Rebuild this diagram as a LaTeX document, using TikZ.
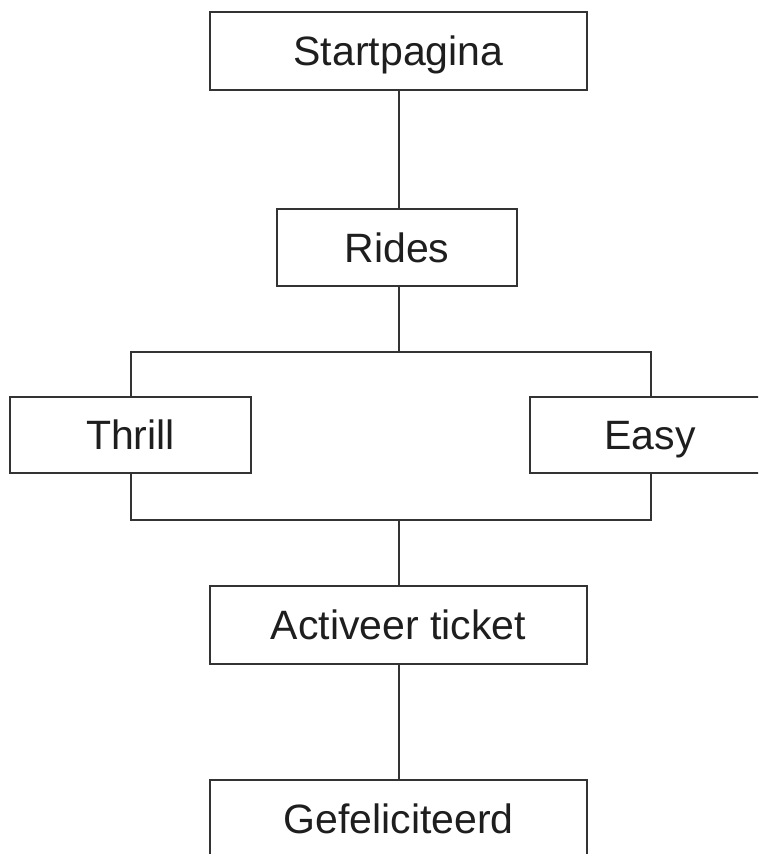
\documentclass[tikz,border=0pt]{standalone}
\usepackage{fontspec}
\setmainfont{Liberation Sans}
\definecolor{linegrey}{HTML}{333333}
\definecolor{textgrey}{HTML}{1E1E1E}
\begin{document}
\begin{tikzpicture}[x=1pt,y=-1pt,
  box/.style={draw=linegrey, line width=2pt, fill=white, inner sep=0pt,
    text=textgrey, font=\fontsize{41}{49}\selectfont,
    text height=29.5pt, text depth=0pt},
  wide/.style={box, minimum width=377pt, minimum height=78pt},
  mid/.style={box, minimum width=240pt, minimum height=77pt},
  conn/.style={draw=linegrey, line width=2pt}]
\useasboundingbox (0,0) rectangle (758,854);
\clip (0,0) rectangle (758,854);
\node[wide] (start) at (398.5,50.5) {Startpagina};
\node[mid] (rides) at (397,247.5) {Rides};
\node[mid, minimum width=241pt, minimum height=76pt] (thrill) at (130.5,435) {Thrill};
\node[mid, minimum width=240pt, minimum height=76pt] (easy) at (650,435) {Easy};
\node[wide] (act) at (398.5,625) {Activeer ticket};
\node[wide] (gef) at (398.5,819) {Gefeliciteerd};
\coordinate (jtop) at (399,352);
\coordinate (jbot) at (399,520);
\coordinate (tl) at (131,352);
\coordinate (tr) at (651,352);
\coordinate (bl) at (131,520);
\coordinate (br) at (651,520);
\draw[conn] (399,89) -- (399,209);
\draw[conn] (399,286) -- (jtop);
\draw[conn] (131,397) -- (tl) -- (tr) -- (651,397);
\draw[conn] (131,473) -- (bl) -- (br) -- (651,473);
\draw[conn] (jbot) -- (399,586);
\draw[conn] (399,664) -- (399,780);
\end{tikzpicture}
\end{document}
